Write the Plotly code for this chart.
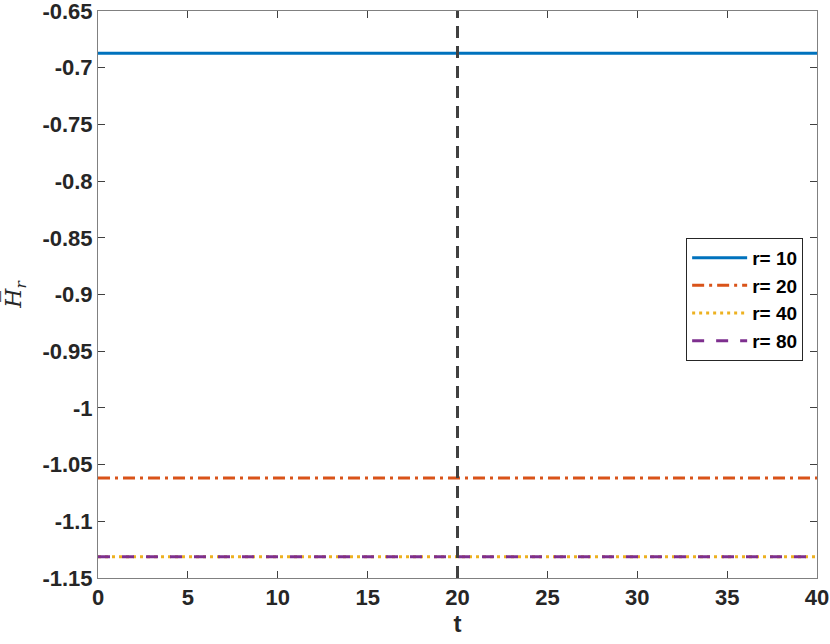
import plotly.graph_objects as go

# time span and the steady values of H_r for each r
t = [0, 40]
radii = ["r= 10", "r= 20", "r= 40", "r= 80"]
h_values = [-0.6873, -1.0618, -1.1312, -1.1312]
t_marker = 20

x_ticks = [0, 5, 10, 15, 20, 25, 30, 35, 40]
y_ticks = [-1.15, -1.1, -1.05, -1.0, -0.95, -0.9, -0.85, -0.8, -0.75, -0.7, -0.65]
y_labels = ["-1.15", "-1.1", "-1.05", "-1", "-0.95", "-0.9", "-0.85", "-0.8", "-0.75", "-0.7", "-0.65"]

colors = ["#0072BD", "#D95319", "#EDB120", "#7E2F8E"]
dashes = ["solid", "12px,5px,3px,5px", "3px,4px", "12px,12px"]

fig = go.Figure()
for name, h, c, d in zip(radii, h_values, colors, dashes):
    fig.add_trace(go.Scatter(
        x=t, y=[h, h], mode="lines", name=f"<b>{name}</b>",
        line=dict(color=c, dash=d, width=3),
    ))

fig.add_vline(x=t_marker, line=dict(color="#404040", dash="12px,8px", width=3))

tick_font = dict(family="Liberation Sans, Arial", size=22, color="#262626")
axis_common = dict(
    showgrid=False, zeroline=False, showline=True, linecolor="#808080",
    linewidth=1, mirror="ticks", ticks="inside", ticklen=7, tickcolor="#404040",
    tickfont=tick_font, automargin=False, ticklabeloverflow="allow",
)

fig.update_xaxes(range=[0, 40], tickvals=x_ticks, ticktext=[f"<b>{v}</b>" for v in x_ticks],
                 **axis_common,
                 title=dict(text="<b>t</b>", standoff=2,
                            font=dict(family="Liberation Sans, Arial", size=24, color="#262626")))
fig.update_yaxes(range=[-1.15, -0.65], tickvals=y_ticks, ticktext=[f"<b>{s}</b>" for s in y_labels],
                 **axis_common,
                 title=dict(text="<i>H\u0305</i><sub><i>r</i></sub>", standoff=14,
                            font=dict(family="DejaVu Serif, serif", size=22, color="#262626")))

fig.update_layout(
    width=830, height=644,
    margin=dict(l=98, r=13, t=11, b=66),
    plot_bgcolor="white", paper_bgcolor="white",
    legend=dict(
        x=0.818, y=0.6, xanchor="left", yanchor="top",
        bgcolor="white", bordercolor="#262626", borderwidth=1,
        font=dict(family="Liberation Sans, Arial", size=19, color="#000000"),
        tracegroupgap=0, itemwidth=55,
    ),
    showlegend=True,
)

# drop the page's default body margin so the figure sits at the window origin
fig.write_html("out.html", config={"displayModeBar": False},
               post_script="document.body.style.margin='0';")
